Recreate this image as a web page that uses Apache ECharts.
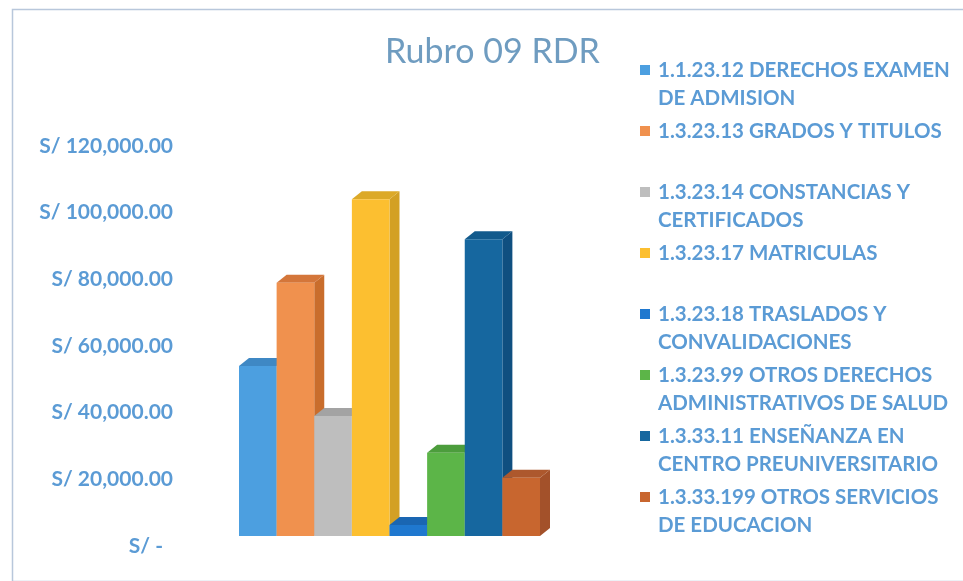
<!DOCTYPE html>
<html>
<head>
<meta charset="utf-8">
<script src="https://cdn.jsdelivr.net/npm/echarts@6/dist/echarts.min.js"></script>
<style>
html,body{margin:0;padding:0;background:#fff;}
#chart{width:963px;height:581px;}
</style>
</head>
<body>
<div id="chart"></div>
<script>
// ---- data ----
const seriesNames = [
  '1.1.23.12 DERECHOS EXAMEN\nDE ADMISION',
  '1.3.23.13 GRADOS Y TITULOS',
  '1.3.23.14 CONSTANCIAS Y\nCERTIFICADOS',
  '1.3.23.17 MATRICULAS',
  '1.3.23.18 TRASLADOS Y\nCONVALIDACIONES',
  '1.3.23.99 OTROS DERECHOS\nADMINISTRATIVOS DE SALUD',
  '1.3.33.11 ENSEÑANZA EN\nCENTRO PREUNIVERSITARIO',
  '1.3.33.199 OTROS SERVICIOS\nDE EDUCACION'
];
const seriesValues = [51000, 76000, 36000, 101000, 3300, 25000, 89000, 17500];
const yTickValues = [0, 20000, 40000, 60000, 80000, 100000, 120000];
const yTickLabels = ['S/ -', 'S/ 20,000.00', 'S/ 40,000.00', 'S/ 60,000.00', 'S/ 80,000.00', 'S/ 100,000.00', 'S/ 120,000.00'];
const titleText = 'Rubro 09 RDR';

// ---- styles ----
const frontColors = ['#4c9fe0', '#f0914e', '#bebebe', '#fcbf30', '#1f78cf', '#5cb548', '#16679f', '#c8662f'];
const sideColors  = ['#3d84bd', '#c96d2c', '#9b9b9b', '#d3a024', '#1962ad', '#48973a', '#0f4f80', '#a3512a'];
const topColors   = ['#3f88c4', '#d4763a', '#a3a3a3', '#dca928', '#1a66b2', '#4c9d3c', '#125a8c', '#ad582d'];
const DX = 10, DY = 8;
const txtBlue = '#5b9bd5';

const chart = echarts.init(document.getElementById('chart'));

const series = seriesNames.map((name, i) => ({
  name: name,
  type: 'custom',
  itemStyle: { color: frontColors[i] },
  data: [[i, seriesValues[i]]],
  renderItem: function (params, api) {
    const idx = api.value(0);
    const base = api.coord([idx, 0]);
    const topPt = api.coord([idx, api.value(1)]);
    const bw = api.size([1, 0])[0];
    const l = base[0] - bw / 2, r = base[0] + bw / 2;
    const t = topPt[1], b = base[1];
    return {
      type: 'group',
      children: [
        { type: 'polygon', shape: { points: [[r, t], [r + DX, t - DY], [r + DX, b - DY], [r, b]] },
          style: { fill: sideColors[i] } },
        { type: 'polygon', shape: { points: [[l, t], [l + DX, t - DY], [r + DX, t - DY], [r, t]] },
          style: { fill: topColors[i] } },
        { type: 'rect', shape: { x: l, y: t, width: r - l, height: b - t },
          style: { fill: frontColors[i] } }
      ]
    };
  }
}));

chart.setOption({
  animation: false,
  backgroundColor: '#ffffff',
  title: {
    text: titleText,
    left: 380, top: 30,
    textStyle: { fontFamily: 'Lato', fontSize: 34, fontWeight: 'normal', color: '#6f9cc0' }
  },
  graphic: [{
    type: 'rect', left: 10, top: 7,
    shape: { width: 970, height: 572 },
    style: { fill: 'none', stroke: '#b8c7db', lineWidth: 1.5 },
    silent: true
  }],
  legend: {
    orient: 'vertical',
    left: 635, top: 51,
    itemGap: 5,
    itemWidth: 13, itemHeight: 56,
    icon: 'path://M0,0h0.01v0.01h-0.01z M0,9h10v10h-10z M13,56h0.01v0.01h-0.01z',
    selectedMode: false,
    formatter: n => n.indexOf('\n') >= 0 ? n : n + '\n\u00a0',
    textStyle: { fontFamily: 'Lato', fontWeight: 'bold', fontSize: 20.5, lineHeight: 28, color: txtBlue },
    data: seriesNames
  },
  grid: { left: 239, right: 963 - 540, top: 136, bottom: 45 },
  xAxis: {
    type: 'category',
    data: seriesNames.map((n, i) => String(i)),
    axisLine: { show: false }, axisTick: { show: false }, axisLabel: { show: false },
    splitLine: { show: false }
  },
  yAxis: {
    type: 'value',
    min: yTickValues[0], max: yTickValues[yTickValues.length - 1], interval: yTickValues[1] - yTickValues[0],
    axisLine: { show: false }, axisTick: { show: false }, splitLine: { show: false },
    axisLabel: {
      margin: 66,
      fontFamily: 'Lato', fontWeight: 'bold', fontSize: 21, color: txtBlue,
      padding: [20, 0, 0, 0],
      formatter: v => {
        const k = yTickValues.indexOf(v);
        const s = k >= 0 ? yTickLabels[k] : '';
        return v === 0 ? '{z|' + s + '}' : s;
      },
      rich: { z: { fontFamily: 'Lato', fontWeight: 'bold', fontSize: 21, color: txtBlue, padding: [0, 10, 0, 0] } }
    }
  },
  series: series
});
</script>
</body>
</html>
